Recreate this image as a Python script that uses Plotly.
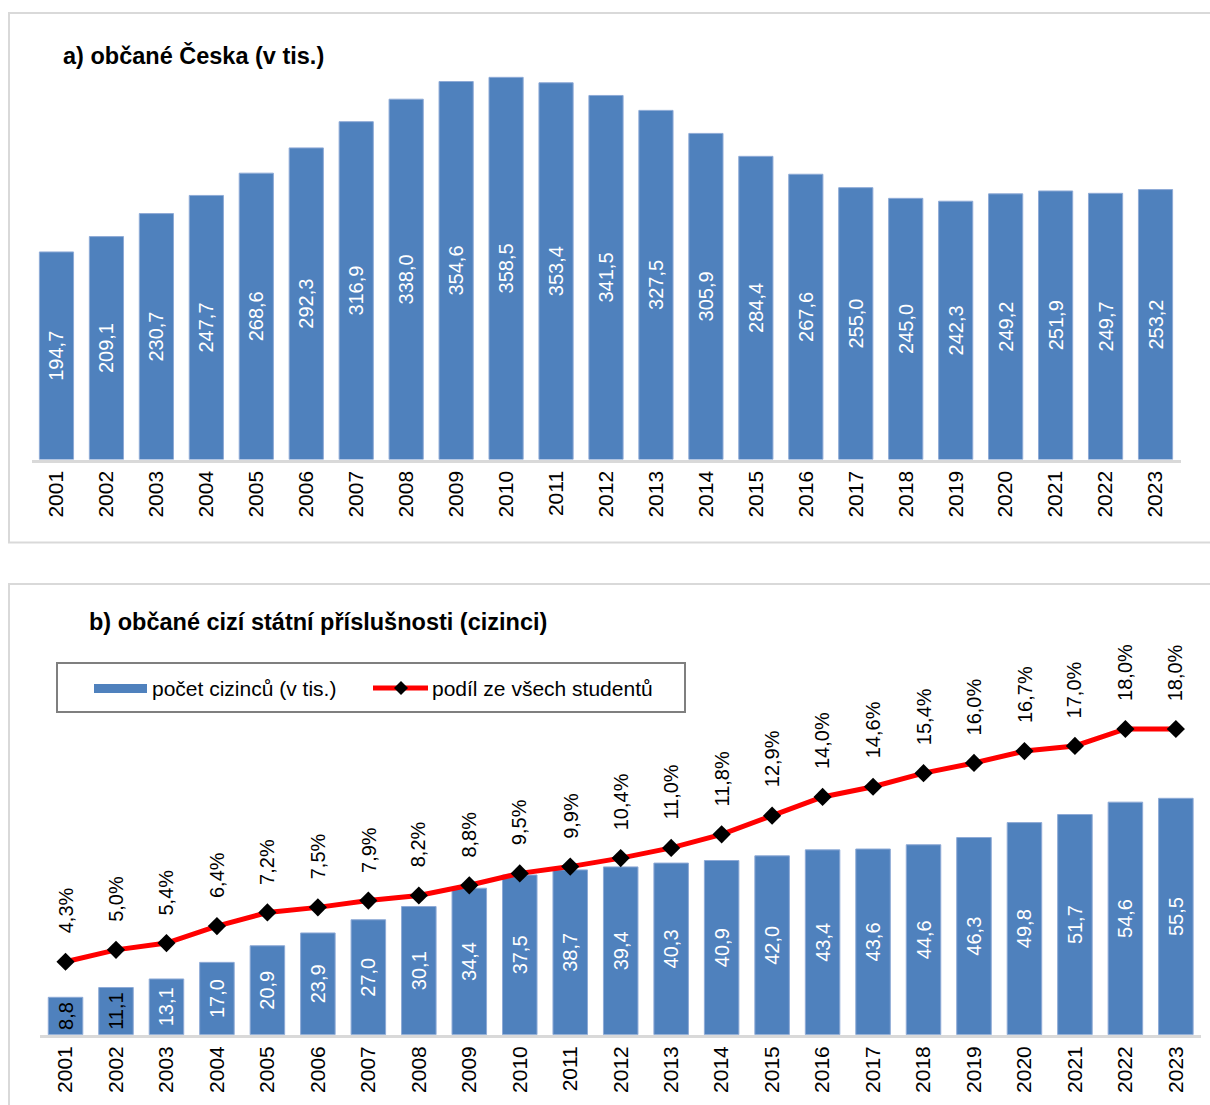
import plotly.graph_objects as go

years = [str(y) for y in range(2001, 2024)]
czech = [194.7, 209.1, 230.7, 247.7, 268.6, 292.3, 316.9, 338.0, 354.6, 358.5, 353.4, 341.5,
         327.5, 305.9, 284.4, 267.6, 255.0, 245.0, 242.3, 249.2, 251.9, 249.7, 253.2]
foreign = [8.8, 11.1, 13.1, 17.0, 20.9, 23.9, 27.0, 30.1, 34.4, 37.5, 38.7, 39.4,
           40.3, 40.9, 42.0, 43.4, 43.6, 44.6, 46.3, 49.8, 51.7, 54.6, 55.5]
share = [4.3, 5.0, 5.4, 6.4, 7.2, 7.5, 7.9, 8.2, 8.8, 9.5, 9.9, 10.4,
         11.0, 11.8, 12.9, 14.0, 14.6, 15.4, 16.0, 16.7, 17.0, 18.0, 18.0]

title_a = "a) občané Česka (v tis.)"
title_b = "b) občané cizí státní příslušnosti (cizinci)"
legend_bar = "počet cizinců (v tis.)"
legend_line = "podíl ze všech studentů"

W, H = 1210, 1105
FONT = "Liberation Sans, Arial, sans-serif"
BLUE = "#4f81bd"
GRID = "#d9d9d9"


def fx(px):
    return px / W


def fy(py):
    return 1 - py / H


def fmt(v):
    return f"{v:.1f}".replace(".", ",")


fig = go.Figure()

# panel a bars
fig.add_trace(go.Bar(
    x=years, y=czech, xaxis="x", yaxis="y",
    marker=dict(color=BLUE, line=dict(color="#8eaad6", width=1)),
    text=[fmt(v) for v in czech], textposition="inside", insidetextanchor="middle",
    textangle=-90, constraintext="none",
    textfont=dict(family=FONT, size=20, color="white"),
    showlegend=False, hoverinfo="skip",
))

# panel b bars
bar_label_colors = ["black" if v < 12 else "white" for v in foreign]
fig.add_trace(go.Bar(
    x=years, y=foreign, xaxis="x2", yaxis="y2",
    marker=dict(color=BLUE, line=dict(color="#8eaad6", width=1)),
    text=[fmt(v) for v in foreign], textposition="inside", insidetextanchor="middle",
    textangle=-90, constraintext="none",
    textfont=dict(family=FONT, size=20, color=bar_label_colors),
    insidetextfont=dict(family=FONT, size=20, color=bar_label_colors),
    showlegend=False, hoverinfo="skip",
))

# panel b line
fig.add_trace(go.Scatter(
    x=years, y=share, xaxis="x2", yaxis="y3", mode="lines+markers",
    line=dict(color="#ff0000", width=5),
    marker=dict(symbol="diamond", size=14, color="black"),
    showlegend=False, hoverinfo="skip",
))

annotations = []
for i, v in enumerate(share):
    annotations.append(dict(
        x=i, y=v, xref="x2", yref="y3", text=fmt(v) + "%", showarrow=False,
        textangle=-90, xanchor="center", yanchor="bottom", yshift=26,
        font=dict(family=FONT, size=20, color="black"),
    ))

annotations.append(dict(
    x=fx(61), y=fy(55), xref="paper", yref="paper", text=title_a, showarrow=False,
    xanchor="left", yanchor="middle",
    font=dict(family=FONT, size=23.5, color="black", weight="bold"),
))
annotations.append(dict(
    x=fx(87), y=fy(622), xref="paper", yref="paper", text=title_b, showarrow=False,
    xanchor="left", yanchor="middle",
    font=dict(family=FONT, size=23.5, color="black", weight="bold"),
))
annotations.append(dict(
    x=fx(150), y=fy(688), xref="paper", yref="paper", text=legend_bar, showarrow=False,
    xanchor="left", yanchor="middle",
    font=dict(family=FONT, size=21, color="black"),
))
annotations.append(dict(
    x=fx(430), y=fy(688), xref="paper", yref="paper", text=legend_line, showarrow=False,
    xanchor="left", yanchor="middle",
    font=dict(family=FONT, size=21, color="black"),
))

shapes = [
    # panel frames
    dict(type="rect", xref="paper", yref="paper", x0=fx(9), x1=fx(1220), y0=fy(13), y1=fy(542.5),
         line=dict(color=GRID, width=2), layer="below"),
    dict(type="rect", xref="paper", yref="paper", x0=fx(9), x1=fx(1220), y0=fy(584), y1=fy(1120),
         line=dict(color=GRID, width=2), layer="below"),
    # legend box
    dict(type="rect", xref="paper", yref="paper", x0=fx(57), x1=fx(685), y0=fy(663), y1=fy(712),
         line=dict(color="#7f7f7f", width=2)),
    dict(type="rect", xref="paper", yref="paper", x0=fx(94), x1=fx(147), y0=fy(684), y1=fy(693),
         line=dict(width=0), fillcolor=BLUE),
    dict(type="line", xref="paper", yref="paper", x0=fx(373), x1=fx(428), y0=fy(688), y1=fy(688),
         line=dict(color="#ff0000", width=5)),
    dict(type="path", xref="paper", yref="paper",
         path=f"M {fx(401)},{fy(681)} L {fx(408)},{fy(688)} L {fx(401)},{fy(695)} L {fx(394)},{fy(688)} Z",
         fillcolor="black", line=dict(width=0)),
]

# axis geometry
a_left, a_right, a_base, a_top = 31.5, 1180.5, 459.5, 60
b_left, b_right, b_base, b_top = 40.3, 1201.1, 1034.8, 640
a_scale = 1.066
b_scale = 4.261
l_scale = 16.99

xaxis_common = dict(
    type="category", range=[-0.5, 22.5], showline=True, linecolor=GRID, linewidth=3,
    showgrid=False, zeroline=False, ticks="", tickangle=-90,
    tickfont=dict(family=FONT, size=21, color="black"), fixedrange=True,
)

fig.update_layout(
    width=W, height=H, margin=dict(l=0, r=0, t=0, b=0),
    paper_bgcolor="white", plot_bgcolor="rgba(0,0,0,0)",
    bargap=0.316, showlegend=False,
    xaxis=dict(domain=[fx(a_left), fx(a_right)], anchor="y", **xaxis_common),
    yaxis=dict(domain=[fy(a_base), fy(a_top)], range=[0, (a_base - a_top) / a_scale],
               visible=False, fixedrange=True),
    xaxis2=dict(domain=[fx(b_left), fx(b_right)], anchor="y2", **xaxis_common),
    yaxis2=dict(domain=[fy(b_base), fy(b_top)], range=[0, (b_base - b_top) / b_scale],
                visible=False, fixedrange=True),
    yaxis3=dict(overlaying="y2", anchor="x2", range=[0, (b_base - b_top) / l_scale],
                visible=False, fixedrange=True),
    annotations=annotations, shapes=shapes,
    font=dict(family=FONT, color="black"),
)

fig.write_html("out.html", config={"displayModeBar": False},
               post_script="document.body.style.margin='0';document.body.style.overflow='hidden';")
